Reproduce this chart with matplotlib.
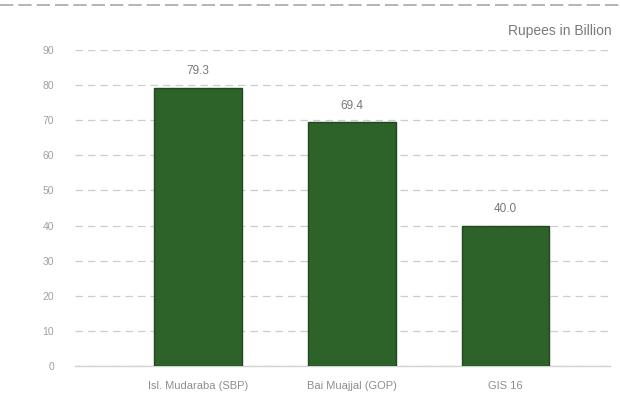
import matplotlib
matplotlib.use("Agg")
import matplotlib.pyplot as plt
from matplotlib.lines import Line2D

categories = ["Isl. Mudaraba (SBP)", "Bai Muajjal (GOP)", "GIS 16"]
values = [79.3, 69.4, 40.0]
value_labels = ["79.3", "69.4", "40.0"]
yticks = [0, 10, 20, 30, 40, 50, 60, 70, 80, 90]

plt.rcParams["font.family"] = ["Liberation Sans", "DejaVu Sans"]

fig = plt.figure(figsize=(6.2, 4.01), dpi=100)
ax = fig.add_axes([0.121, 0.0873, 0.863, 0.788])

x = list(range(len(categories)))
ax.bar(x, values, width=0.57, color="#2d6229", edgecolor="#22481f", linewidth=1.0, zorder=3)

for xi, v, lab in zip(x, values, value_labels):
    ax.text(xi, v + 3.0, lab, ha="center", va="bottom", fontsize=8.5, color="#777777")

ax.set_xlim(-0.80, 2.68)
ax.set_ylim(0, 90)
ax.set_yticks(yticks)
ax.set_yticklabels([str(t) for t in yticks], fontsize=7.5, color="#a0a0a0")
ax.set_xticks(x)
ax.set_xticklabels(categories, fontsize=8, color="#8e8e8e")
ax.tick_params(axis="x", length=0, pad=11)
ax.tick_params(axis="y", length=0, pad=15)

ax.yaxis.grid(True, color="#cdcdcd", linestyle=(0, (6, 4)), linewidth=0.9, zorder=0)
for s in ["top", "right", "left"]:
    ax.spines[s].set_visible(False)
ax.spines["bottom"].set_color("#d2d2d2")
ax.spines["bottom"].set_linewidth(1.0)

fig.text(0.987, 0.922, "Rupees in Billion", ha="right", va="center", fontsize=10, color="#7a7a7a")

# dashed rule across the top of the panel
fig.add_artist(Line2D([0.0, 1.0], [0.988, 0.988], transform=fig.transFigure,
                      color="#a8a8a8", linestyle=(0, (8, 3)), linewidth=1.2))

fig.savefig("out.png", dpi=100, facecolor="white")
